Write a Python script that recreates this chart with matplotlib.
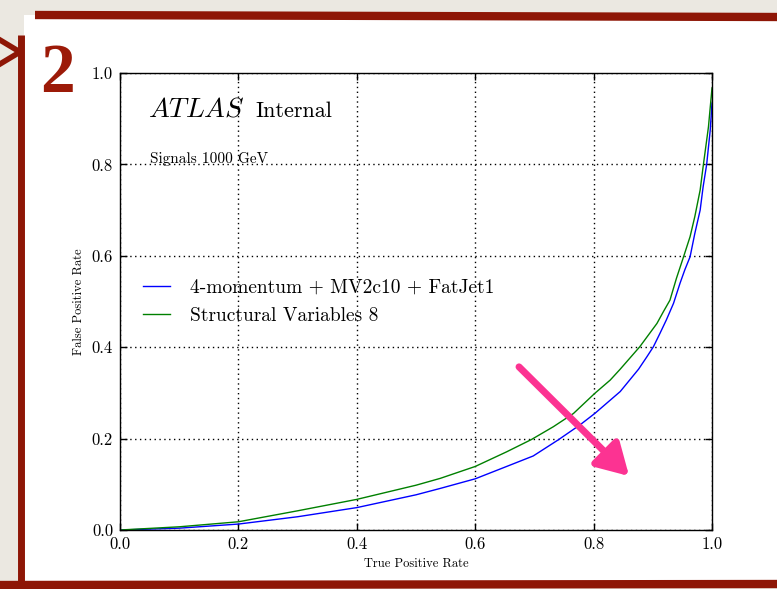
import matplotlib
matplotlib.use('Agg')
import matplotlib.pyplot as plt
from matplotlib.patches import Rectangle

# ROC curves
tpr_mv2 = [0.0, 0.1, 0.2, 0.3, 0.4, 0.5, 0.541, 0.6, 0.653, 0.698, 0.740, 0.777, 0.802,
           0.845, 0.876, 0.890, 0.901, 0.912, 0.923, 0.935, 0.946, 0.954, 0.963, 0.971,
           0.980, 0.985, 0.991, 0.997, 1.0]
fpr_mv2 = [0.0, 0.004, 0.013, 0.029, 0.049, 0.077, 0.091, 0.112, 0.139, 0.162, 0.197,
           0.230, 0.255, 0.303, 0.352, 0.379, 0.401, 0.430, 0.460, 0.496, 0.540, 0.569,
           0.598, 0.649, 0.700, 0.751, 0.800, 0.875, 0.934]

tpr_struct = [0.0, 0.1, 0.2, 0.3, 0.4, 0.5, 0.541, 0.6, 0.653, 0.695, 0.732, 0.766, 0.802,
              0.828, 0.845, 0.878, 0.907, 0.918, 0.929, 0.940, 0.952, 0.963, 0.971, 0.980,
              0.985, 0.994, 1.0]
fpr_struct = [0.0, 0.007, 0.018, 0.042, 0.067, 0.098, 0.113, 0.139, 0.171, 0.198, 0.226,
              0.255, 0.299, 0.328, 0.352, 0.401, 0.452, 0.478, 0.503, 0.551, 0.598, 0.642,
              0.686, 0.744, 0.795, 0.882, 0.967]

labels = ['4-momentum + MV2c10 + FatJet1', 'Structural Variables 8']
ticks = [0.0, 0.2, 0.4, 0.6, 0.8, 1.0]
tick_labels = ['0.0', '0.2', '0.4', '0.6', '0.8', '1.0']

plt.rcParams['font.family'] = ['cmr10', 'DejaVu Serif']
plt.rcParams['mathtext.fontset'] = 'cm'
plt.rcParams['axes.unicode_minus'] = False

fig = plt.figure(figsize=(7.77, 5.89), dpi=100)
fig.patch.set_facecolor('#ebe8e1')

# slide decoration: white card, red brush strokes, chevron and the big "2"
red = '#8e1606'
fig.add_artist(Rectangle((24/777, 1 - 585/589), 753/777, 570/589,
                         transform=fig.transFigure, facecolor='white', edgecolor='none', zorder=0))
fig.add_artist(plt.Line2D([35/777, 1.0], [1 - 15/589, 1 - 17/589], transform=fig.transFigure,
                          color=red, lw=6, solid_capstyle='butt'))
fig.add_artist(plt.Line2D([21/777, 21/777], [1 - 35/589, 0.0], transform=fig.transFigure,
                          color=red, lw=5, solid_capstyle='butt'))
fig.add_artist(plt.Line2D([0.0, 1.0], [1 - 585/589, 1 - 584/589], transform=fig.transFigure,
                          color=red, lw=6, solid_capstyle='butt'))
fig.add_artist(plt.Line2D([0.0, 20/777, 0.0], [1 - 40/589, 1 - 52/589, 1 - 64/589],
                          transform=fig.transFigure, color=red, lw=4))
fig.text(40/777, 1 - 92/589, '2', fontsize=50, color='#9c1a08', fontweight='bold',
         family='Liberation Serif', ha='left', va='baseline')

ax = fig.add_axes([120/777, 59/589, 592/777, 457/589])
ax.plot(tpr_mv2, fpr_mv2, color='#0000ff', lw=1, label=labels[0])
ax.plot(tpr_struct, fpr_struct, color='#008000', lw=1, label=labels[1])

ax.set_xlim(0, 1)
ax.set_ylim(0, 1)
ax.set_xticks(ticks)
ax.set_xticklabels(tick_labels)
ax.set_yticks(ticks)
ax.set_yticklabels(tick_labels)
ax.tick_params(direction='in', top=True, right=True, length=5, width=1, labelsize=12, pad=5)
ax.grid(True, color='black', linestyle=(0, (1, 2.5)), linewidth=1)
for s in ax.spines.values():
    s.set_linewidth(1)

ax.set_xlabel('True Positive Rate', fontsize=9, labelpad=4)
ax.set_ylabel('False Positive Rate', fontsize=9, labelpad=5)

ax.text(0.047, 0.904, r'$\mathit{ATLAS}$', transform=ax.transAxes, fontsize=20, va='baseline')
ax.text(0.228, 0.904, 'Internal', transform=ax.transAxes, fontsize=16, va='baseline')
ax.text(0.051, 0.803, 'Signals 1000 GeV', transform=ax.transAxes, fontsize=11, va='baseline')

ax.legend(loc='upper left', bbox_to_anchor=(0.039, 0.550), frameon=False, fontsize=14,
          handlelength=1.4, handletextpad=1.0, labelspacing=0.55, borderpad=0, borderaxespad=0)

# pink arrow pointing towards lower-right (better)
ax.annotate('', xy=(0.860, 0.118), xytext=(0.674, 0.357), xycoords='axes fraction',
            arrowprops=dict(arrowstyle='-|>,head_length=0.95,head_width=0.55', color='#fc3392',
                            lw=5, shrinkA=0, shrinkB=0, mutation_scale=20), zorder=5)

fig.savefig('out.png', dpi=100, facecolor=fig.get_facecolor())
